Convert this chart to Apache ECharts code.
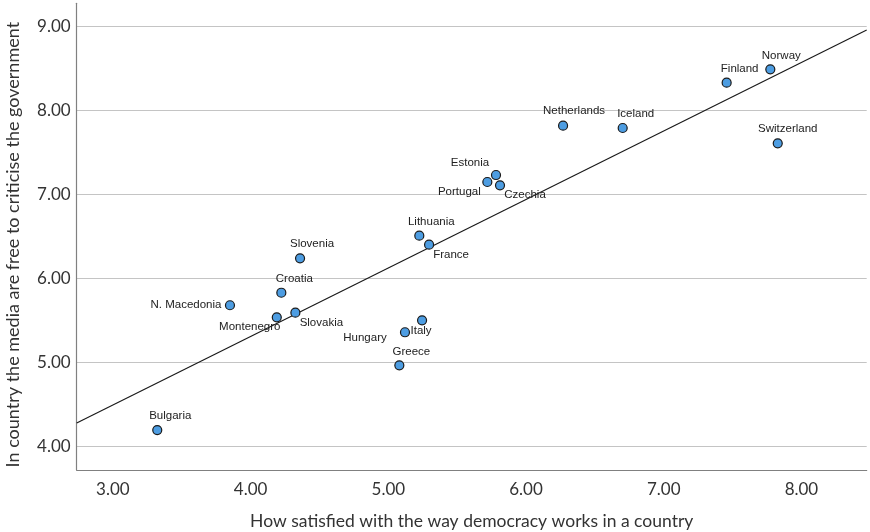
<!DOCTYPE html>
<html>
<head>
<meta charset="utf-8">
<script src="https://cdn.jsdelivr.net/npm/echarts@6/dist/echarts.min.js"></script>
<style>
html,body{margin:0;padding:0;background:#fff;}
#chart{width:870px;height:532px;}
</style>
</head>
<body>
<div id="chart"></div>
<script>
const countries = ['Norway','Finland','Netherlands','Iceland','Switzerland','Estonia','Portugal','Czechia','Lithuania','France','Slovenia','Croatia','N. Macedonia','Montenegro','Slovakia','Italy','Hungary','Greece','Bulgaria'];
const satisfaction = [7.774,7.457,6.269,6.702,7.828,5.782,5.719,5.811,5.225,5.296,4.359,4.223,3.850,4.190,4.325,5.245,5.121,5.080,3.322];
const mediaFreedom = [8.485,8.326,7.815,7.788,7.606,7.229,7.146,7.107,6.508,6.401,6.239,5.830,5.681,5.538,5.593,5.502,5.360,4.967,4.198];
const xTicks = [3,4,5,6,7,8];
const yTicks = [4,5,6,7,8,9];
const fitX = [2.737, 8.474];
const fitY = [4.282, 8.952];

// label placement (pixel offsets of label centre from point centre)
const labelOffset = {
  'Norway':[11,-14],'Finland':[13,-14],'Netherlands':[11,-15],'Iceland':[13,-14],
  'Switzerland':[10,-14],'Estonia':[-26,-12],'Portugal':[-28,10],'Czechia':[25,10],
  'Lithuania':[12,-14],'France':[22,10],'Slovenia':[12,-14],'Croatia':[13,-14],
  'N. Macedonia':[-44,0],'Montenegro':[-27,10],'Slovakia':[26,10],'Italy':[-1,11],
  'Hungary':[-40,6],'Greece':[12,-14],'Bulgaria':[13,-14]
};

const chart = echarts.init(document.getElementById('chart'), null, {renderer:'canvas'});
const axisFont = 'Lato, "Noto Sans", sans-serif';
chart.setOption({
  animation:false,
  backgroundColor:'#ffffff',
  grid:{left:76.7,right:3.3,top:3.3,bottom:62,containLabel:false,outerBoundsMode:'none'},
  xAxis:{
    type:'value', min:fitX[0], max:fitX[1],
    name:'How satisfied with the way democracy works in a country',
    nameLocation:'middle', nameGap:42,
    nameTextStyle:{fontFamily:axisFont,fontSize:17.5,color:'#333'},
    axisLine:{show:true,lineStyle:{color:'#808080',width:1.2}},
    axisTick:{show:false,customValues:xTicks},
    axisLabel:{customValues:xTicks,formatter:v=>v.toFixed(2),fontFamily:axisFont,fontSize:17,color:'#333',margin:11},
    splitLine:{show:false}
  },
  yAxis:{
    type:'value', min:3.723, max:9.27,
    name:'In country the media are free to criticise the government',
    nameLocation:'middle', nameGap:55,
    nameTextStyle:{fontFamily:axisFont,fontSize:18,color:'#333',padding:[0,16,0,0]},
    axisLine:{show:true,lineStyle:{color:'#808080',width:1.2}},
    axisTick:{show:false,customValues:yTicks},
    axisLabel:{customValues:yTicks,formatter:v=>v.toFixed(2),fontFamily:axisFont,fontSize:17,color:'#333',margin:6},
    splitLine:{show:true,lineStyle:{color:'#c4c4c4',width:1.2}}
  },
  series:[
    {
      type:'line', z:2, silent:true,
      data:[[fitX[0],fitY[0]],[fitX[1],fitY[1]]],
      showSymbol:false, symbol:'none',
      lineStyle:{color:'#1a1a1a',width:1.2}
    },
    {
      type:'scatter', z:5,
      symbol:'circle', symbolSize:9,
      itemStyle:{color:'#4d9de2',borderColor:'#1a1a1a',borderWidth:1.2,opacity:1},
      label:{show:true,position:'inside',formatter:'{b}',fontFamily:'"Liberation Sans", Arial, sans-serif',fontSize:11.5,color:'#222'},
      data:countries.map((c,i)=>({name:c,value:[satisfaction[i],mediaFreedom[i]],label:{offset:labelOffset[c]}}))
    }
  ]
});
</script>
</body>
</html>
